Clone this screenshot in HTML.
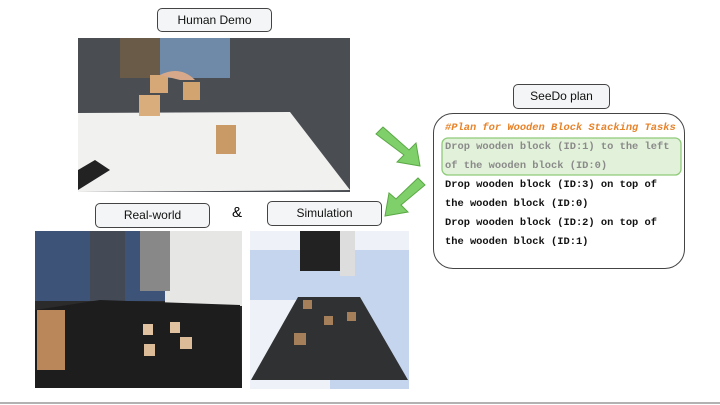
<!DOCTYPE html>
<html><head><style>
body{margin:0;width:720px;height:405px;background:#fff;overflow:hidden;position:relative;font-family:"Liberation Sans",sans-serif}
.lbl{position:absolute;border:1.3px solid #444;border-radius:5px;background:#f4f5f6;font-size:12px;color:#111;text-align:center;box-sizing:border-box}
.plan{position:absolute;left:433px;top:113px;width:252px;height:156px;border:1.3px solid #444;border-radius:20px;box-sizing:border-box}
.t{position:absolute;left:445px;font-family:"Liberation Mono",monospace;font-weight:bold;font-size:10.4px;white-space:pre;color:#111}
</style></head><body>
<div class="lbl" style="left:157px;top:8px;width:115px;height:24px;line-height:22px">Human Demo</div>
<div class="lbl" style="left:95px;top:203px;width:115px;height:25px;line-height:23px">Real-world</div>
<div style="position:absolute;left:232px;top:204px;font-size:15px">&amp;</div>
<div class="lbl" style="left:267px;top:201px;width:115px;height:25px;line-height:23px">Simulation</div>
<div class="lbl" style="left:513px;top:84px;width:97px;height:25px;line-height:23px">SeeDo plan</div>

<svg style="position:absolute;left:0;top:0" width="720" height="405">
 <!-- top photo -->
 <rect x="78" y="38" width="272" height="154" fill="#4a4d52"/>
 <rect x="120" y="38" width="110" height="40" fill="#6f8aa8"/>
 <rect x="120" y="38" width="40" height="40" fill="#6a5a48"/>
 <path d="M78 113 L290 112 L350 190 L78 192Z" fill="#f1f1f0"/>
 <path d="M78 170 L95 160 L110 170 L78 190Z" fill="#222"/>
 <rect x="150" y="75" width="18" height="18" fill="#d6a877"/>
 <rect x="183" y="82" width="17" height="18" fill="#d2a470"/>
 <rect x="139" y="95" width="21" height="21" fill="#d9ad7c"/>
 <rect x="216" y="125" width="20" height="29" fill="#c99a66"/>
 <path d="M160 75 Q180 65 195 80 L180 80Z" fill="#d7a98a"/>
 <!-- real photo -->
 <rect x="35" y="231" width="207" height="157" fill="#2b2b2c"/>
 <rect x="35" y="231" width="130" height="70" fill="#3d5378"/>
 <rect x="165" y="231" width="77" height="75" fill="#e6e6e4"/>
 <rect x="140" y="231" width="30" height="60" fill="#888"/>
 <rect x="90" y="231" width="35" height="70" fill="#444a55"/>
 <path d="M35 310 L100 300 L240 305 L242 388 L35 388Z" fill="#1d1d1e"/>
 <rect x="37" y="310" width="28" height="60" fill="#b9875a"/>
 <rect x="143" y="324" width="10" height="11" fill="#e0c2a0"/>
 <rect x="170" y="322" width="10" height="11" fill="#e0c2a0"/>
 <rect x="180" y="337" width="12" height="12" fill="#dcbc98"/>
 <rect x="144" y="344" width="11" height="12" fill="#dcbc98"/>
 <!-- sim photo -->
 <rect x="250" y="231" width="159" height="158" fill="#eef2f8"/>
 <path d="M250 250 L409 250 L409 300 L250 300Z" fill="#c5d5ee"/>
 <rect x="330" y="300" width="79" height="89" fill="#c5d5ee"/>
 <path d="M298 297 L360 297 L408 380 L251 380Z" fill="#2f3133"/>
 <rect x="300" y="231" width="40" height="40" fill="#222"/>
 <rect x="340" y="231" width="15" height="45" fill="#ddd"/>
 <rect x="303" y="300" width="9" height="9" fill="#a57e5a"/>
 <rect x="324" y="316" width="9" height="9" fill="#a57e5a"/>
 <rect x="347" y="312" width="9" height="9" fill="#a57e5a"/>
 <rect x="294" y="333" width="12" height="12" fill="#a57e5a"/>
 <!-- arrows -->
 <path d="M376 134 L383 127 L409 150 L416 143 L420 166 L397 162 L404 155Z" fill="#7fd06a" stroke="#5aa845" stroke-width="1"/>
 <path d="M425 185 L418 178 L396 199 L389 193 L385 216 L408 212 L401 205Z" fill="#7fd06a" stroke="#5aa845" stroke-width="1"/>
 <line x1="0" y1="403" x2="720" y2="403" stroke="#999" stroke-width="1.5"/>
 <rect x="442" y="138" width="239" height="37" rx="6" fill="#e2f1d9" stroke="#8fcb7a" stroke-width="1.3"/>
</svg>
<div class="plan"></div>
<div class="t" style="top:122px;color:#e8832a;font-style:italic">#Plan for Wooden Block Stacking Tasks</div>
<div class="t" style="top:141px;color:#8a8a8a">Drop wooden block (ID:1) to the left</div>
<div class="t" style="top:160px;color:#8a8a8a">of the wooden block (ID:0)</div>
<div class="t" style="top:179px">Drop wooden block (ID:3) on top of</div>
<div class="t" style="top:198px">the wooden block (ID:0)</div>
<div class="t" style="top:217px">Drop wooden block (ID:2) on top of</div>
<div class="t" style="top:236px">the wooden block (ID:1)</div>
</body></html>
